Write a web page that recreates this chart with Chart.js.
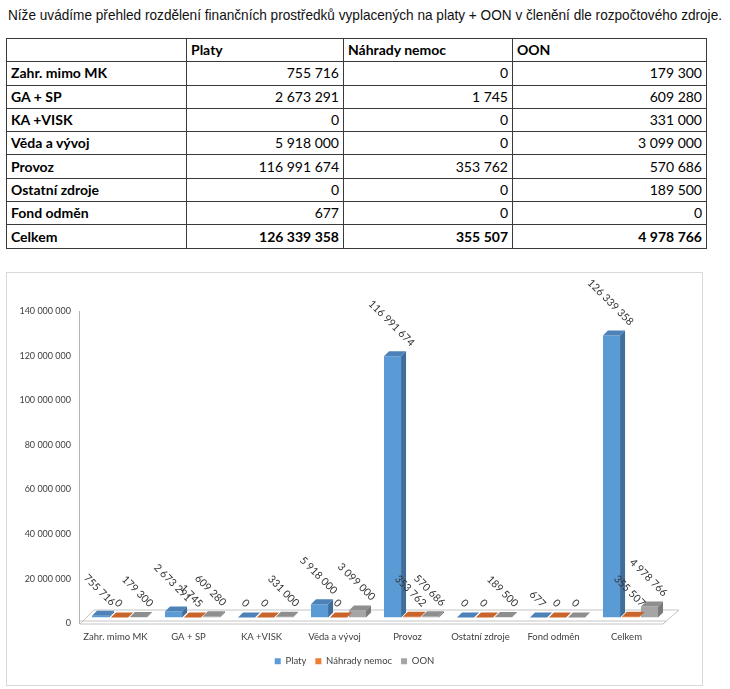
<!DOCTYPE html>
<html lang="cs">
<head>
<meta charset="utf-8">
<script src="https://cdn.jsdelivr.net/npm/chart.js@4.4.1/dist/chart.umd.min.js"></script>
<style>
  body { margin: 0; background: #fff; width: 730px; height: 689px; position: relative; overflow: hidden; }
  #uvod { position: absolute; left: 8px; top: 6px; font-family: "Liberation Sans Narrow", "Liberation Sans", Arial, sans-serif;
          font-size: 15px; white-space: nowrap; transform-origin: left top; color: #111; }
  table { position: absolute; left: 6px; top: 38px; border-collapse: collapse; font-family: Lato, sans-serif; font-size: 14px; color: #000; }
  td { border: 1px solid #3a3a3a; height: 23.3px; box-sizing: border-box; padding: 0 4px; line-height: 1; }
  td.cis { text-align: right; }
  td.nazev, tr.hlavicka td, tr.celkem td { font-weight: bold; }
  #ramecek { position: absolute; left: 6px; top: 272px; width: 697px; height: 414px; box-sizing: border-box; border: 1px solid #d9d9d9; }
  #graf { position: absolute; left: 7px; top: 273px; }
</style>
</head>
<body>
<div id="uvod">Níže uvádíme přehled rozdělení finančních prostředků vyplacených na platy + OON v členění dle rozpočtového zdroje.</div>
<table id="tabulka">
  <colgroup><col style="width:180px"><col style="width:157px"><col style="width:169px"><col style="width:194px"></colgroup>
  <tbody></tbody>
</table>
<div id="ramecek"></div>
<canvas id="graf" width="695" height="412"></canvas>
<script>
// data z tabulky
const kategorie = ['Zahr. mimo MK', 'GA + SP', 'KA +VISK', 'Věda a vývoj', 'Provoz', 'Ostatní zdroje', 'Fond odměn'];
const platy = [755716, 2673291, 0, 5918000, 116991674, 0, 677];
const nahrady = [0, 1745, 0, 0, 353762, 0, 0];
const oon = [179300, 609280, 331000, 3099000, 570686, 189500, 0];
const celkem = ['Celkem', 126339358, 355507, 4978766];
const nazvySerii = ['Platy', 'Náhrady nemoc', 'OON'];
const osaYMax = 140000000;
const osaYKrok = 20000000;

const barvy = [
  { celo: '#5B9BD5', bok: '#3F6E9A', vrch: '#4C82B8' },
  { celo: '#ED7D31', bok: '#B85D22', vrch: '#C9642A' },
  { celo: '#A5A5A5', bok: '#7A7A7A', vrch: '#8E8E8E' }
];

// formát 1 234 567
function cislo(n) {
  return String(n).replace(/\B(?=(\d{3})+(?!\d))/g, ' ');
}

// tabulka nad grafem
const tbody = document.querySelector('#tabulka tbody');
let html = '<tr class="hlavicka"><td></td>' + nazvySerii.map(s => '<td>' + s + '</td>').join('') + '</tr>';
kategorie.forEach((k, i) => {
  html += '<tr><td class="nazev">' + k + '</td><td class="cis">' + cislo(platy[i]) + '</td><td class="cis">' +
    cislo(nahrady[i]) + '</td><td class="cis">' + cislo(oon[i]) + '</td></tr>';
});
html += '<tr class="celkem"><td>' + celkem[0] + '</td>' + celkem.slice(1).map(v => '<td class="cis">' + cislo(v) + '</td>').join('') + '</tr>';
tbody.innerHTML = html;

// natáhnout úvodní větu na šířku řádku
const uvod = document.getElementById('uvod');
uvod.style.transform = 'scaleX(' + (714 / uvod.getBoundingClientRect().width) + ')';

const popisky = kategorie.concat([celkem[0]]);
const hodnoty = [platy.concat([celkem[1]]), nahrady.concat([celkem[2]]), oon.concat([celkem[3]])];

const hloubka = { dx: 5, dy: 5 };
const posun = { x: 4, y: -6 };

// podlaha, hloubka sloupců a popisky hodnot
const trojrozmer = {
  id: 'trojrozmer',
  beforeDatasetsDraw(chart) {
    const { ctx, chartArea, scales } = chart;
    const z = scales.y.getPixelForValue(0) + 0.5;
    const l = chartArea.left + 1, r = chartArea.right;
    ctx.save();
    ctx.strokeStyle = '#c4c4c4';
    ctx.lineWidth = 1;
    ctx.beginPath();
    ctx.moveTo(l, z); ctx.lineTo(r, z); ctx.lineTo(r + 16, z - 14); ctx.lineTo(l + 14, z - 14); ctx.closePath();
    ctx.moveTo(l, z - 3); ctx.lineTo(r + 3, z - 3); ctx.lineTo(r, z);
    ctx.stroke();
    ctx.restore();
    ctx.save();
    ctx.translate(posun.x, posun.y);
  },
  afterDatasetDraw(chart, args) {
    const ctx = chart.ctx;
    const b = barvy[args.index];
    args.meta.data.forEach(bar => {
      const { x, y, base, width } = bar.getProps(['x', 'y', 'base', 'width'], true);
      const l = x - width / 2, r = x + width / 2;
      ctx.fillStyle = b.bok;
      ctx.beginPath();
      ctx.moveTo(r, y); ctx.lineTo(r + hloubka.dx, y - hloubka.dy); ctx.lineTo(r + hloubka.dx, base - hloubka.dy); ctx.lineTo(r, base);
      ctx.closePath(); ctx.fill();
      ctx.fillStyle = b.vrch;
      ctx.beginPath();
      ctx.moveTo(l, y); ctx.lineTo(l + hloubka.dx, y - hloubka.dy); ctx.lineTo(r + hloubka.dx, y - hloubka.dy); ctx.lineTo(r, y);
      ctx.closePath(); ctx.fill();
    });
  },
  afterDatasetsDraw(chart) {
    const ctx = chart.ctx;
    ctx.font = '10.5px Lato, sans-serif';
    ctx.fillStyle = '#333333';
    ctx.textAlign = 'center';
    ctx.textBaseline = 'middle';
    chart.data.datasets.forEach((ds, i) => {
      chart.getDatasetMeta(i).data.forEach((bar, j) => {
        const t = cislo(ds.data[j]);
        const w = ctx.measureText(t).width;
        ctx.save();
        ctx.translate(bar.x - 1, bar.y - 12 - w * 0.35);
        ctx.rotate(Math.PI / 4);
        ctx.fillText(t, 0, 0);
        ctx.restore();
      });
    });
    ctx.restore();
  }
};

new Chart(document.getElementById('graf'), {
  type: 'bar',
  data: {
    labels: popisky,
    datasets: nazvySerii.map((s, i) => ({
      label: s,
      data: hodnoty[i],
      backgroundColor: barvy[i].celo,
      borderWidth: 0
    }))
  },
  options: {
    responsive: false,
    animation: false,
    layout: { padding: { top: 38, right: 0, bottom: 9, left: 0 } },
    datasets: { bar: { categoryPercentage: 0.78, barPercentage: 0.9 } },
    plugins: {
      tooltip: { enabled: false },
      legend: {
        position: 'bottom',
        labels: { boxWidth: 6, boxHeight: 6, padding: 9, color: '#404040', font: { family: 'Lato', size: 9.5 } }
      }
    },
    scales: {
      x: {
        grid: { display: false, drawTicks: false },
        border: { display: false },
        ticks: { color: '#404040', padding: 8, maxRotation: 0, autoSkip: false, font: { family: 'Lato', size: 9.5 } },
        afterFit(scale) { scale.height = 24; }
      },
      y: {
        min: 0,
        max: osaYMax,
        grid: { display: false, drawTicks: false },
        border: { color: '#b4b4b4' },
        ticks: { stepSize: osaYKrok, padding: 8, color: '#404040', font: { family: 'Lato', size: 9 }, callback: v => cislo(v) },
        afterFit(scale) { scale.width = 72; }
      },
      // prázdné místo vpravo, aby legenda zůstala na středu rámečku
      volno: {
        position: 'right',
        grid: { display: false, drawTicks: false },
        border: { display: false },
        ticks: { display: false },
        afterFit(scale) { scale.width = 39; }
      }
    }
  },
  plugins: [trojrozmer]
});
</script>
</body>
</html>
